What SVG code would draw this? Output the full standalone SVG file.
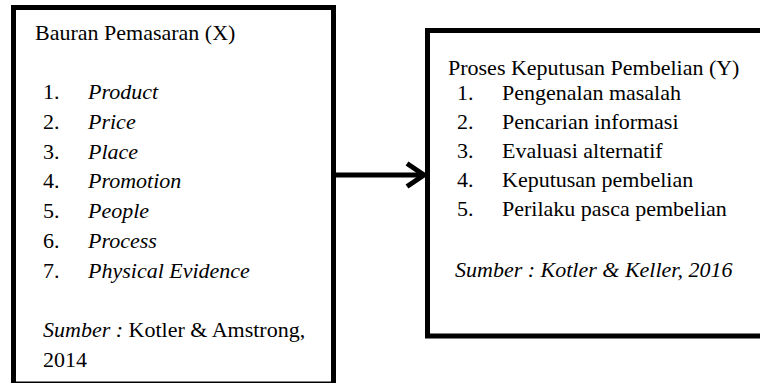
<svg xmlns="http://www.w3.org/2000/svg" width="760" height="383" viewBox="0 0 760 383" font-family="'Liberation Serif', serif" font-size="22">
<style>
text, tspan{font-family:'Liberation Serif', serif;font-size:22px;fill:#000}
.i{font-style:italic}
.box{fill:#fff;stroke:#000;stroke-width:5}
.conn{fill:none;stroke:#000;stroke-width:5}
</style>
<rect width="760" height="383" fill="#fff"/>
<g id="node-x" font-family="'Liberation Serif', serif">
<rect class="box" x="13.5" y="7.5" width="320" height="376.5"/>
<text x="35" y="40">Bauran Pemasaran (X)</text>
<text x="43" y="99">1.</text><text class="i" x="88" y="99">Product</text>
<text x="43" y="128.8">2.</text><text class="i" x="88" y="128.8">Price</text>
<text x="43" y="158.6">3.</text><text class="i" x="88" y="158.6">Place</text>
<text x="43" y="188.4">4.</text><text class="i" x="88" y="188.4">Promotion</text>
<text x="43" y="218.2">5.</text><text class="i" x="88" y="218.2">People</text>
<text x="43" y="248">6.</text><text class="i" x="88" y="248">Process</text>
<text x="43" y="277.8">7.</text><text class="i" x="88" y="277.8">Physical Evidence</text>
<text x="43" y="337"><tspan class="i">Sumber :</tspan> Kotler &amp; Amstrong,</text>
<text x="43" y="367">2014</text>
</g>
<g id="node-y" font-family="'Liberation Serif', serif">
<rect class="box" x="427.5" y="30.5" width="340" height="305.5"/>
<text x="448" y="75">Proses Keputusan Pembelian (Y)</text>
<text x="457" y="99.5">1.</text><text x="502" y="99.5">Pengenalan masalah</text>
<text x="457" y="128.5">2.</text><text x="502" y="128.5">Pencarian informasi</text>
<text x="457" y="157.5">3.</text><text x="502" y="157.5">Evaluasi alternatif</text>
<text x="457" y="186.5">4.</text><text x="502" y="186.5">Keputusan pembelian</text>
<text x="457" y="215.5">5.</text><text x="502" y="215.5">Perilaku pasca pembelian</text>
<text class="i" x="455" y="277">Sumber : Kotler &amp; Keller, 2016</text>
</g>
<g id="connectors">
<line class="conn" x1="336" y1="175" x2="423" y2="175"/>
<polyline class="conn" points="407,163.5 424,175 407,186.5" stroke-linejoin="miter"/>
</g>
</svg>
